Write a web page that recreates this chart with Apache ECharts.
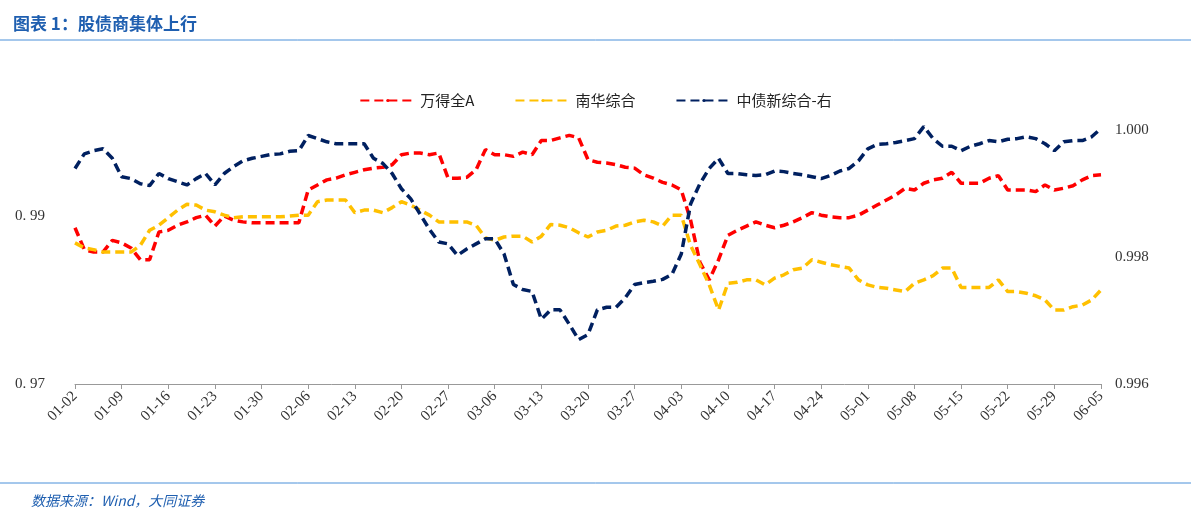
<!DOCTYPE html>
<html><head><meta charset="utf-8">
<script src="https://cdn.jsdelivr.net/npm/echarts@6/dist/echarts.min.js"></script>
<style>html,body{margin:0;padding:0;background:#fff}#c{width:1191px;height:519px}</style>
</head><body><div id="c"></div>
<script>
// categories: weekdays 2023-01-02 .. 2023-06-05
const categories = [];
(function(){const d=new Date(Date.UTC(2023,0,2));const end=Date.UTC(2023,5,5);
while(d.getTime()<=end){const w=d.getUTCDay();if(w!==0&&w!==6){categories.push(String(d.getUTCMonth()+1).padStart(2,'0')+'-'+String(d.getUTCDate()).padStart(2,'0'));}d.setUTCDate(d.getUTCDate()+1);}})();

const seriesNames = ['万得全A','南华综合','中债新综合-右'];
const windA = [
.9886,.9860,.9857,.9857,.9871, .9868,.9862,.9848,.9848,.9881, .9883,.9889,.9893,.9898,.9901,
.9888,.9900,.9895,.9893,.9892, .9892,.9892,.9892,.9892,.9892, .9931,.9937,.9943,.9945,.9949,
.9952,.9955,.9957,.9958,.9961, .9973,.9975,.9975,.9973,.9975, .9945,.9945,.9946,.9955,.9979,
.9973,.9973,.9971,.9976,.9973, .9990,.9990,.9993,.9996,.9993, .9967,.9964,.9963,.9961,.9958,
.9957,.9949,.9945,.9940,.9937, .9931,.9895,.9845,.9824,.9848, .9877,.9883,.9888,.9893,.9889,
.9886,.9889,.9893,.9898,.9904, .9901,.9899,.9898,.9898,.9901, .9907,.9913,.9919,.9925,.9933,
.9931,.9939,.9943,.9945,.9952, .9939,.9939,.9939,.9945,.9948, .9931,.9931,.9931,.9929,.9937,
.9931,.9933,.9936,.9943,.9948,.9949];
const nanhua = [
.9868,.9862,.9860,.9857,.9857, .9857,.9857,.9865,.9883,.9889, .9898,.9907,.9914,.9913,.9907,
.9905,.9901,.9898,.9899,.9899, .9899,.9899,.9899,.9900,.9901, .9901,.9917,.9919,.9919,.9919,
.9904,.9907,.9907,.9904,.9910, .9917,.9913,.9907,.9901,.9893, .9893,.9893,.9893,.9889,.9874,
.9871,.9875,.9876,.9876,.9869, .9876,.9890,.9889,.9886,.9880, .9875,.9881,.9883,.9888,.9889,
.9893,.9895,.9893,.9888,.9901, .9901,.9865,.9842,.9818,.9788, .9820,.9821,.9824,.9824,.9818,
.9826,.9830,.9836,.9838,.9848, .9845,.9842,.9840,.9838,.9824, .9818,.9815,.9814,.9812,.9810,
.9820,.9824,.9829,.9838,.9838, .9815,.9815,.9815,.9815,.9824, .9810,.9810,.9808,.9805,.9800,
.9788,.9788,.9792,.9794,.9800,.9812];
const chinaBond = [
.99940,.99963,.99968,.99971,.99956, .99927,.99924,.99916,.99913,.99932, .99924,.99919,.99914,.99924,.99932,
.99914,.99932,.99943,.99952,.99956, .99959,.99962,.99963,.99967,.99968, .99992,.99987,.99982,.99979,.99979,
.99979,.99979,.99956,.99948,.99932, .99908,.99892,.99868,.99844,.99824, .99821,.99803,.99813,.99821,.99829,
.99829,.99805,.99757,.99749,.99746, .99702,.99717,.99717,.99694,.99670, .99678,.99717,.99721,.99721,.99736,
.99757,.99760,.99762,.99765,.99773, .99805,.99884,.99916,.99940,.99956, .99932,.99932,.99930,.99929,.99930,
.99936,.99935,.99932,.99930,.99927, .99924,.99929,.99936,.99940,.99952, .99971,.99978,.99979,.99981,.99984,
.99987,1.00006,.99987,.99975,.99975, .99968,.99975,.99979,.99984,.99982, .99986,.99987,.99990,.99987,.99979,
.99968,.99982,.99984,.99984,.99990,1.00003];

const chart = echarts.init(document.getElementById('c'));
const font = '"Noto Sans CJK SC", sans-serif';
const lbl = {color:'#333', fontSize:15, fontFamily:'"Liberation Serif", serif'};
chart.setOption({
  animation:false,
  textStyle:{fontFamily:font},
  title:[
    {text:'图表 1：股债商集体上行', left:8, top:10, textStyle:{color:'#1F5FB0', fontSize:17, fontWeight:'bold', fontFamily:font}},
    {text:'数据来源：Wind，大同证券', left:26, top:489, textStyle:{color:'#1F5FB0', fontSize:14, fontStyle:'italic', fontWeight:'normal', fontFamily:font}}
  ],
  graphic:[
    {type:'line', shape:{x1:0,y1:40,x2:1191,y2:40}, style:{stroke:'#4A90D9', lineWidth:1}},
    {type:'line', shape:{x1:0,y1:483,x2:1191,y2:483}, style:{stroke:'#4A90D9', lineWidth:1}}
  ],
  legend:{top:88, left:'center', itemWidth:55, itemHeight:4, itemGap:40,
    textStyle:{fontSize:15, color:'#222', fontFamily:font}, data:seriesNames},
  grid:{left:75, right:90, top:48, bottom:135},
  xAxis:{type:'category', data:categories, boundaryGap:false,
    axisLine:{lineStyle:{color:'#999'}}, axisTick:{show:true, interval:4, lineStyle:{color:'#999'}},
    axisLabel:{interval:4, rotate:45, margin:10, ...lbl}},
  yAxis:[
    {type:'value', min:0.97, max:1.01, interval:0.02, showMaxLabel:false, splitLine:{show:false},
     axisLine:{show:false}, axisTick:{show:false},
     axisLabel:{...lbl, margin:30, formatter:v=>v>=1.005?'':v.toFixed(2).replace('.','. ')}},
    {type:'value', min:0.996, max:1.0013, interval:0.002, splitLine:{show:false},
     axisLine:{show:false}, axisTick:{show:false},
     axisLabel:{...lbl, margin:14, formatter:v=>v>1.0005?'':v.toFixed(3)}}
  ],
  series:[
    {name:seriesNames[0], type:'line', data:windA, symbol:'none', color:'#FF0000', lineStyle:{width:3.5, type:[9,5]}},
    {name:seriesNames[1], type:'line', data:nanhua, symbol:'none', color:'#FFC000', lineStyle:{width:3.5, type:[9,5]}},
    {name:seriesNames[2], type:'line', yAxisIndex:1, data:chinaBond, symbol:'none', color:'#002060', lineStyle:{width:3.5, type:[9,5]}}
  ]
});
</script></body></html>
